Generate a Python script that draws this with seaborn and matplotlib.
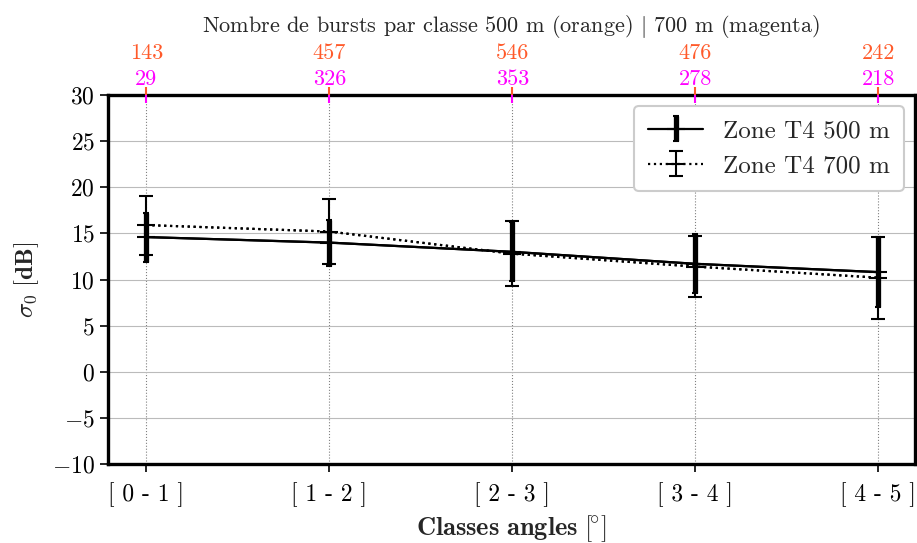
import numpy as np
import pandas as pd
import seaborn as sns
import matplotlib.pyplot as plt

# Valeurs
classes = ["[ 0 - 1 ]", "[ 1 - 2 ]", "[ 2 - 3 ]", "[ 3 - 4 ]", "[ 4 - 5 ]"]
sigma_500 = [14.6, 14.0, 13.0, 11.7, 10.8]
err_500 = [2.65, 2.5, 3.2, 3.2, 3.8]
sigma_700 = [15.9, 15.2, 12.8, 11.4, 10.2]
err_700 = [3.2, 3.5, 3.55, 3.3, 4.45]
bursts_500 = [143, 457, 546, 476, 242]
bursts_700 = [29, 326, 353, 278, 218]

ORANGE = "#FF5a2a"
MAGENTA = "#FF00FF"

sns.set_theme(style="white")
plt.rcParams["font.family"] = ["serif"]
plt.rcParams["font.serif"] = ["cmr10"]
plt.rcParams["mathtext.fontset"] = "cm"
plt.rcParams["axes.formatter.use_mathtext"] = True

df = pd.DataFrame({
    "x": np.tile(np.arange(len(classes)), 2),
    "sigma": sigma_500 + sigma_700,
    "zone": ["Zone T4 500 m"] * len(classes) + ["Zone T4 700 m"] * len(classes),
})

fig = plt.figure(figsize=(9.17, 5.43), dpi=100)
ax = fig.add_axes([0.1178, 0.1455, 0.88, 0.6795])
x = np.arange(len(classes))

# grille
for xi in x:
    ax.axvline(xi, color="gray", ls=":", lw=0.8, zorder=0)
ax.grid(axis="y", color="#bbbbbb", lw=0.8, zorder=0)

sns.lineplot(data=df, x="x", y="sigma", hue="zone", style="zone",
             palette=["black", "black"], dashes=["", (1, 1.65)], linewidth=1.6,
             ax=ax, legend=False, zorder=3)

h500 = ax.errorbar(x, sigma_500, yerr=err_500, color="black", ls="-", lw=1.6,
                   elinewidth=3.8, capsize=2, capthick=1.5, marker="_",
                   markersize=13, markeredgewidth=1.5, zorder=4,
                   label="Zone T4 500 m")
h700 = ax.errorbar(x, sigma_700, yerr=err_700, color="black", ls=":", lw=1.6,
                   elinewidth=1.5, capsize=5, capthick=2, marker="_",
                   markersize=13, markeredgewidth=1.5, zorder=5,
                   label="Zone T4 700 m")

ax.set_xlim(-0.21, 4.2)
ax.set_ylim(-10, 30)
ax.set_yticks(np.arange(-10, 31, 5))
ax.set_xticks(x)
ax.set_xticklabels(classes)
ax.tick_params(axis="both", direction="out", length=6, width=1.2,
               labelsize=17, left=True, bottom=True, colors="black")
ax.tick_params(axis="x", pad=7)
for sp in ax.spines.values():
    sp.set_linewidth(2.4)
    sp.set_color("black")

ax.set_xlabel(r"$\mathbf{Classes\ angles\ [\!{}^{\circ}]}$", fontsize=19,
              labelpad=5)
ax.set_ylabel(r"$\sigma_0\ \mathbf{[dB]}$", fontsize=18, labelpad=8)

leg = ax.legend(handles=[h500, h700], loc="upper right", fontsize=18,
                frameon=True, fancybox=True, edgecolor="#cccccc",
                framealpha=1, handlelength=2.2, handletextpad=0.8,
                borderpad=0.55, borderaxespad=0.45, labelspacing=0.5)
leg.get_frame().set_linewidth(1.5)

# axes du haut : nombre de bursts
top_o = ax.twiny()
top_o.set_xlim(ax.get_xlim())
top_o.set_xticks(x)
top_o.set_xticklabels([str(v) for v in bursts_500])
top_o.tick_params(axis="x", top=True, direction="out", length=6, width=1.5,
                  color=ORANGE, labelcolor=ORANGE, labelsize=16, pad=17)
top_o.set_title(r"Nombre de bursts par classe 500 m (orange) $|$ 700 m (magenta)",
                fontsize=16, pad=8)

top_m = ax.twiny()
top_m.set_xlim(ax.get_xlim())
top_m.set_xticks(x)
top_m.set_xticklabels([str(v) for v in bursts_700])
top_m.tick_params(axis="x", top=True, direction="in", length=6, width=1.5,
                  color=MAGENTA, labelcolor=MAGENTA, labelsize=16, pad=4)
for t in (top_o, top_m):
    for sp in t.spines.values():
        sp.set_visible(False)
    t.grid(False)

fig.savefig("out.png", dpi=100)
